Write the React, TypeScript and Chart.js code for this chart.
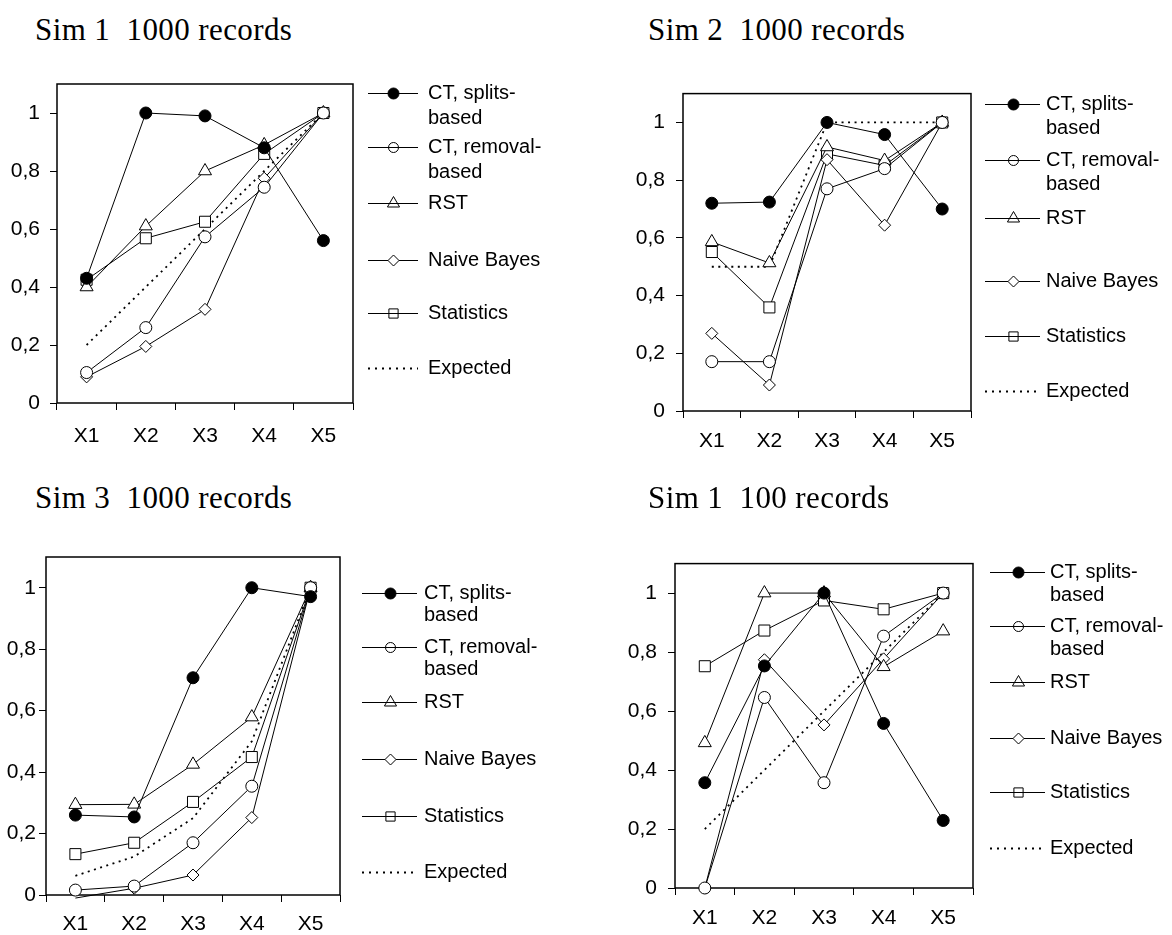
import React, { useEffect, useRef } from "react";
import { Chart, registerables } from "chart.js";

Chart.register(...registerables);

// ---------- data ----------
const categories = ["X1", "X2", "X3", "X4", "X5"];
const legendLabels = [
  ["CT, splits-", "based"],
  ["CT, removal-", "based"],
  ["RST"],
  ["Naive Bayes"],
  ["Statistics"],
  ["Expected"],
];
const yTickValues = [0, 0.2, 0.4, 0.6, 0.8, 1];

// Sim 1, 1000 records
const s1kSplits = [0.43, 1.0, 0.99, 0.88, 0.56];
const s1kRemoval = [0.105, 0.26, 0.573, 0.744, 1.0];
const s1kRST = [0.4, 0.61, 0.8, 0.89, 1.0];
const s1kNB = [0.09, 0.195, 0.323, 0.775, 1.0];
const s1kStats = [0.425, 0.568, 0.625, 0.859, 1.0];
const s1kExpected = [0.2, 0.4, 0.6, 0.8, 1.0];

// Sim 2, 1000 records
const s2kSplits = [0.72, 0.724, 1.0, 0.958, 0.7];
const s2kRemoval = [0.171, 0.171, 0.77, 0.84, 1.0];
const s2kRST = [0.586, 0.513, 0.915, 0.868, 1.0];
const s2kNB = [0.269, 0.09, 0.871, 0.644, 1.0];
const s2kStats = [0.551, 0.359, 0.891, 0.851, 1.0];
const s2kExpected = [0.5, 0.5, 1.0, 1.0, 1.0];

// Sim 3, 1000 records
const s3kSplits = [0.26, 0.254, 0.707, 1.0, 0.971];
const s3kRemoval = [0.016, 0.029, 0.17, 0.354, 1.0];
const s3kRST = [0.294, 0.295, 0.425, 0.579, 1.0];
const s3kNB = [-0.01, 0.022, 0.065, 0.252, 1.0];
const s3kStats = [0.133, 0.17, 0.303, 0.449, 1.0];
const s3kExpected = [0.0625, 0.125, 0.25, 0.5, 1.0];

// Sim 1, 100 records
const s1hSplits = [0.357, 0.753, 1.0, 0.558, 0.229];
const s1hRemoval = [0, 0.646, 0.357, 0.854, 1.0];
const s1hRST = [0.492, 1.0, 1.0, 0.75, 0.871];
const s1hNB = [0, 0.774, 0.553, 0.777, 1.0];
const s1hStats = [0.752, 0.873, 0.975, 0.945, 1.0];
const s1hExpected = [0.2, 0.4, 0.6, 0.8, 1.0];

// ---------- styling ----------
const SANS = '"Liberation Sans", Arial, sans-serif';
const SERIF = '"Liberation Serif", "Times New Roman", serif';
const TICK_SIZE = 21;
const LEGEND_SIZE = 20;

type MarkerStyle = { style: string | false; fill: string; r: number; lr: number; lfill: string };
const markerStyles: MarkerStyle[] = [
  { style: "circle", fill: "#000", r: 6, lr: 5.5, lfill: "#000" },
  { style: "circle", fill: "#fff", r: 6, lr: 5, lfill: "" },
  { style: "triangle", fill: "#fff", r: 7.5, lr: 7, lfill: "" },
  { style: "rectRot", fill: "#fff", r: 6, lr: 5.5, lfill: "#fff" },
  { style: "rect", fill: "#fff", r: 7.8, lr: 6.5, lfill: "" },
  { style: false, fill: "", r: 0, lr: 0, lfill: "" },
];

type Spec = {
  title: string;
  titleX: number;
  titleY: number;
  canvas: { left: number; top: number; width: number; height: number };
  plot: { L: number; T: number; R: number; B: number };
  xAxisH: number;
  yPad: number;
  xPad: number;
  legend: { x0: number; x1: number; tx: number; rows: number[]; gap: number };
  series: number[][];
  hidden?: { s: number; i: number }[];
};

const specs: Spec[] = [
  {
    title: "Sim 1  1000 records",
    titleX: 35,
    titleY: 30,
    canvas: { left: 0, top: 60, width: 580, height: 420 },
    plot: { L: 57, T: 84, R: 353, B: 403 },
    xAxisH: 50,
    yPad: 10,
    xPad: 14,
    legend: { x0: 368, x1: 418, tx: 428, rows: [93, 147, 203, 260, 313, 368], gap: 25 },
    series: [s1kSplits, s1kRemoval, s1kRST, s1kNB, s1kStats, s1kExpected],
  },
  {
    title: "Sim 2  1000 records",
    titleX: 648,
    titleY: 30,
    canvas: { left: 600, top: 70, width: 572, height: 420 },
    plot: { L: 683, T: 93, R: 971, B: 411 },
    xAxisH: 50,
    yPad: 11,
    xPad: 11,
    legend: { x0: 985, x1: 1040, tx: 1046, rows: [104, 160, 218, 281, 336, 391], gap: 24 },
    series: [s2kSplits, s2kRemoval, s2kRST, s2kNB, s2kStats, s2kExpected],
  },
  {
    title: "Sim 3  1000 records",
    titleX: 35,
    titleY: 498,
    canvas: { left: 0, top: 540, width: 580, height: 395 },
    plot: { L: 46, T: 557, R: 340, B: 895 },
    xAxisH: 40,
    yPad: 3,
    xPad: 10,
    legend: { x0: 362, x1: 417, tx: 424, rows: [593, 647, 702, 759, 816, 872], gap: 22 },
    series: [s3kSplits, s3kRemoval, s3kRST, s3kNB, s3kStats, s3kExpected],
    hidden: [{ s: 3, i: 0 }],
  },
  {
    title: "Sim 1  100 records",
    titleX: 648,
    titleY: 498,
    canvas: { left: 600, top: 540, width: 572, height: 395 },
    plot: { L: 675, T: 554, R: 973, B: 888 },
    xAxisH: 40,
    yPad: 11,
    xPad: 11,
    legend: { x0: 990, x1: 1045, tx: 1050, rows: [572, 626, 682, 738, 792, 848], gap: 23 },
    series: [s1hSplits, s1hRemoval, s1hRST, s1hNB, s1hStats, s1hExpected],
  },
];

function fmtTick(v: number | string) {
  const n = Math.round(Number(v) * 10) / 10;
  return String(n).replace(".", ",");
}

function drawMarker(ctx: CanvasRenderingContext2D, style: string, x: number, y: number, r: number, fill: string) {
  ctx.beginPath();
  if (style === "circle") {
    ctx.arc(x, y, r, 0, Math.PI * 2);
  } else if (style === "triangle") {
    ctx.moveTo(x, y - r);
    ctx.lineTo(x + r * 0.866, y + r * 0.5);
    ctx.lineTo(x - r * 0.866, y + r * 0.5);
    ctx.closePath();
  } else if (style === "rectRot") {
    ctx.moveTo(x - r, y);
    ctx.lineTo(x, y - r);
    ctx.lineTo(x + r, y);
    ctx.lineTo(x, y + r);
    ctx.closePath();
  } else if (style === "rect") {
    const s = r * Math.SQRT1_2;
    ctx.rect(x - s, y - s, 2 * s, 2 * s);
  }
  if (fill) {
    ctx.fillStyle = fill;
    ctx.fill();
  }
  ctx.stroke();
}

function Panel({ spec }: { spec: Spec }) {
  const ref = useRef<HTMLCanvasElement>(null);
  const c = spec.canvas;
  useEffect(() => {
    if (!ref.current) return;
    const wy = spec.plot.L - c.left;
    const padTop = spec.plot.T - c.top;
    const padRight = c.left + c.width - spec.plot.R;
    const padBottom = c.top + c.height - spec.plot.B - spec.xAxisH;

    const framePlugin = {
      id: "frame",
      beforeDatasetsDraw(chart: any) {
        const a = chart.chartArea;
        const ctx = chart.ctx;
        ctx.save();
        ctx.strokeStyle = "#000";
        ctx.lineWidth = 1.5;
        ctx.strokeRect(a.left, a.top, a.right - a.left, a.bottom - a.top);
        ctx.restore();
      },
    };

    const legendPlugin = {
      id: "sideLegend",
      afterDraw(chart: any) {
        const ctx = chart.ctx as CanvasRenderingContext2D;
        const lg = spec.legend;
        ctx.save();
        ctx.font = `${LEGEND_SIZE}px ${SANS}`;
        ctx.textBaseline = "middle";
        ctx.textAlign = "left";
        legendLabels.forEach((lines, i) => {
          const y = lg.rows[i] - c.top + 0.5;
          const x0 = lg.x0 - c.left;
          const x1 = lg.x1 - c.left;
          const ms = markerStyles[i];
          ctx.strokeStyle = "#000";
          ctx.lineWidth = i === 5 ? 2 : 1;
          ctx.setLineDash(i === 5 ? [2, 5] : []);
          ctx.beginPath();
          ctx.moveTo(x0, y);
          ctx.lineTo(x1, y);
          ctx.stroke();
          ctx.setLineDash([]);
          if (ms.style) {
            ctx.lineWidth = 1;
            drawMarker(ctx, ms.style as string, Math.round((x0 + x1) / 2) + 0.5, y, ms.lr, ms.lfill);
          }
          ctx.fillStyle = "#000";
          lines.forEach((t, k) => {
            ctx.fillText(t, lg.tx - c.left, y + k * lg.gap);
          });
        });
        ctx.restore();
      },
    };

    const datasets = spec.series.map((vals, si) => {
      const ms = markerStyles[si];
      const isExp = si === 5;
      const radii = vals.map((_, idx) =>
        spec.hidden && spec.hidden.some((h) => h.s === si && h.i === idx) ? 0 : ms.r
      );
      return {
        label: legendLabels[si].join(""),
        data: vals,
        borderColor: "#000",
        borderWidth: isExp ? 1.8 : 1,
        borderDash: isExp ? [2, 4.5] : [],
        pointStyle: isExp ? false : (ms.style as any),
        pointRadius: isExp ? 0 : radii,
        pointBackgroundColor: ms.fill || "#fff",
        pointBorderColor: "#000",
        pointBorderWidth: 1,
        tension: 0,
        fill: false,
        clip: false as any,
      };
    });

    const gridCfg = {
      display: true,
      drawOnChartArea: false,
      drawTicks: true,
      tickLength: 7,
      color: "#000",
      lineWidth: 1,
    };

    const chart = new Chart(ref.current, {
      type: "line",
      data: { labels: categories, datasets: datasets as any },
      options: {
        responsive: false,
        animation: false,
        devicePixelRatio: 1,
        layout: { padding: { left: 0, top: padTop, right: padRight, bottom: padBottom } },
        plugins: {
          legend: { display: false },
          tooltip: { enabled: false },
          title: { display: false },
        },
        scales: {
          x: {
            type: "category",
            offset: true,
            grid: { ...gridCfg, offset: true },
            border: { display: false },
            ticks: {
              color: "#000",
              font: { family: SANS, size: TICK_SIZE },
              padding: spec.xPad,
              maxRotation: 0,
              autoSkip: false,
            },
            afterFit: (s: any) => {
              s.height = spec.xAxisH;
            },
          },
          y: {
            type: "linear",
            min: 0,
            max: 1.1,
            grid: gridCfg,
            border: { display: false },
            afterBuildTicks: (s: any) => {
              s.ticks = yTickValues.map((v) => ({ value: v }));
            },
            ticks: {
              color: "#000",
              font: { family: SANS, size: TICK_SIZE },
              padding: spec.yPad,
              callback: (v: any) => fmtTick(v),
            },
            afterFit: (s: any) => {
              s.width = wy;
            },
          },
        },
      } as any,
      plugins: [framePlugin, legendPlugin],
    });
    return () => chart.destroy();
  }, []);
  return (
    <canvas
      ref={ref}
      width={c.width}
      height={c.height}
      style={{ position: "absolute", left: c.left, top: c.top, width: c.width, height: c.height }}
    />
  );
}

export default function App() {
  return (
    <div
      style={{
        position: "absolute",
        left: 0,
        top: 0,
        width: 1172,
        height: 935,
        background: "#fff",
        overflow: "hidden",
      }}
    >
      {specs.map((s, i) => (
        <Panel key={i} spec={s} />
      ))}
      {specs.map((s, i) => (
        <div
          key={"t" + i}
          style={{
            position: "absolute",
            left: s.titleX,
            top: s.titleY - 16,
            fontFamily: SERIF,
            fontSize: 31,
            lineHeight: "32px",
            letterSpacing: "0.4px",
            whiteSpace: "pre",
            color: "#000",
          }}
        >
          {s.title}
        </div>
      ))}
    </div>
  );
}
